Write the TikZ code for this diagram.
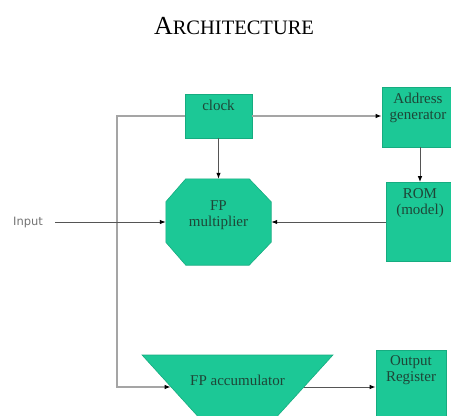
\documentclass[tikz,border=0pt]{standalone}
\usepackage{fontspec}
\setmainfont{Liberation Serif}
\newfontfamily\inputfont{DejaVu Sans}
\usetikzlibrary{shapes.geometric,arrows.meta,backgrounds}
\definecolor{blockTeal}{RGB}{28,200,150}
\definecolor{blockEdge}{RGB}{22,172,128}
\definecolor{blockText}{RGB}{30,70,55}
\definecolor{wireGray}{RGB}{85,85,85}
\definecolor{loopGray}{RGB}{165,165,165}

\tikzset{
  blk/.style={draw=blockEdge, fill=blockTeal, line width=0.6pt, inner sep=0pt},
  inlbl/.style={anchor=north, inner sep=6pt, align=center, text=blockText,
    font=\fontsize{15}{16}\selectfont},
  wire/.style={draw=wireGray, line width=1pt, -{Latex[length=6pt,width=4.5pt,color=black]}},
  loopwire/.style={draw=loopGray, line width=1.8pt, -{Latex[length=6pt,width=4.5pt,color=black]}}
}

\begin{document}
\begin{tikzpicture}[x=1pt,y=-1pt]
  \clip (0,0) rectangle (451,416);
  \useasboundingbox (0,0) rectangle (451,416);

  % title
  \node (title) at (234,26) {\fontsize{26}{28}\selectfont A\fontsize{20.5}{22}\selectfont RCHITECTURE};

  % blocks
  \node[blk, minimum width=67pt, minimum height=44pt,
    label={[inlbl]north:clock}] (clock) at (218.5,116) {};
  \node[blk, minimum width=72pt, minimum height=60pt,
    label={[inlbl]north:Address\\generator}] (addr) at (418,117) {};
  \node[blk, minimum width=68pt, minimum height=79pt,
    label={[inlbl]north:ROM\\(model)}] (rom) at (420,222) {};
  \node[inner sep=0pt, minimum width=105pt, minimum height=86pt,
    label={[inlbl,yshift=-16pt]north:FP\\multiplier}] (mult) at (218.5,222) {};
  \node[blk, trapezium, shape border rotate=180, trapezium stretches=true,
    trapezium left angle=52, trapezium right angle=52, inner sep=3pt,
    minimum width=191pt, minimum height=64pt,
    label={[inlbl,yshift=-14pt]north:FP accumulator}] (acc) at (237.5,387) {};
  \node[blk, minimum width=70pt, minimum height=80pt,
    label={[inlbl]north:Output\\Register}] (out) at (411,390) {};

  \node[text=gray!90!black, font=\inputfont\fontsize{11.5}{13}\selectfont] (input) at (28,222) {Input};

  % octagon behind the multiplier text
  \begin{scope}[on background layer]
    \filldraw[blk] ([xshift=20pt]mult.north west) -- ([xshift=-22pt]mult.north east)
      -- ([yshift=-23pt]mult.north east) -- ([yshift=23pt]mult.south east)
      -- ([xshift=-22pt]mult.south east) -- ([xshift=20pt]mult.south west)
      -- ([yshift=23pt]mult.south west) -- ([yshift=-23pt]mult.north west) -- cycle;
  \end{scope}

  % connections
  \draw[loopwire] (clock.west) -- ++(-68,0) |- (acc);
  \draw[loopwire] (clock.east) -- (clock.east -| addr.west);
  \draw[wire] (clock) -- (mult);
  \draw[wire] (addr.south -| rom.north) -- (rom.north);
  \draw[wire] (rom) -- (mult);
  \draw[wire, shorten <=9pt] (input) -- (mult);
  \draw[wire] (acc) -- (acc -| out.west);
\end{tikzpicture}
\end{document}
